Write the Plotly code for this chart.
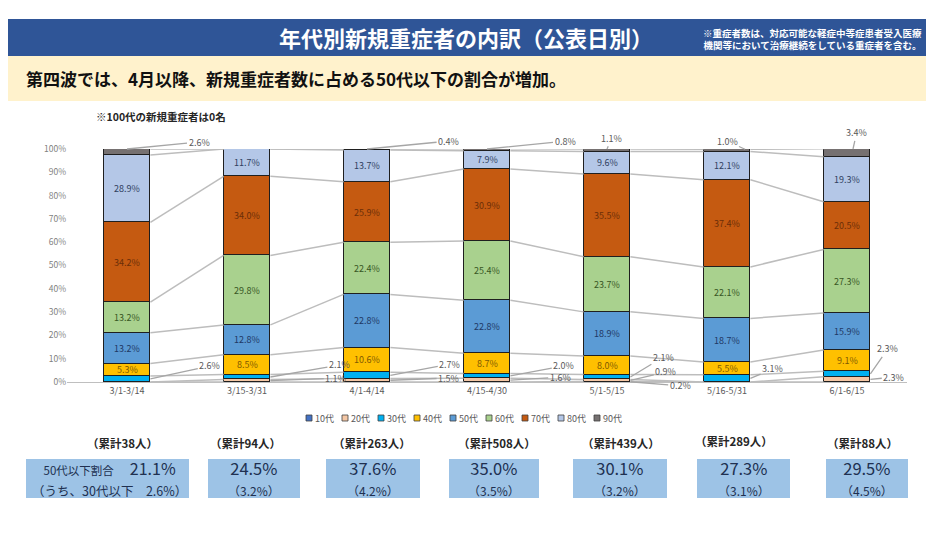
import plotly.graph_objects as go

# ---------------- data ----------------
categories = ["3/1-3/14", "3/15-3/31", "4/1-4/14", "4/15-4/30", "5/1-5/15", "5/16-5/31", "6/1-6/15"]
age_groups = ["10代", "20代", "30代", "40代", "50代", "60代", "70代", "80代", "90代"]

v10 = [0, 0, 0, 0, 0.2, 0, 0]
v20 = [0, 1.1, 1.5, 1.6, 0.9, 0, 2.3]
v30 = [2.6, 2.1, 2.7, 2.0, 2.1, 3.1, 2.3]
v40 = [5.3, 8.5, 10.6, 8.7, 8.0, 5.5, 9.1]
v50 = [13.2, 12.8, 22.8, 22.8, 18.9, 18.7, 15.9]
v60 = [13.2, 29.8, 22.4, 25.4, 23.7, 22.1, 27.3]
v70 = [34.2, 34.0, 25.9, 30.9, 35.5, 37.4, 20.5]
v80 = [28.9, 11.7, 13.7, 7.9, 9.6, 12.1, 19.3]
v90 = [2.6, 0, 0.4, 0.8, 1.1, 1.0, 3.4]

cumulative_cases = [38, 94, 263, 508, 439, 289, 88]
share_50s_or_less = [21.1, 24.5, 37.6, 35.0, 30.1, 27.3, 29.5]
share_30s_or_less = [2.6, 3.2, 4.2, 3.5, 3.2, 3.1, 4.5]

y_tick_values = [0, 10, 20, 30, 40, 50, 60, 70, 80, 90, 100]
y_tick_labels = ["0%", "10%", "20%", "30%", "40%", "50%", "60%", "70%", "80%", "90%", "100%"]

series_values = [v10, v20, v30, v40, v50, v60, v70, v80, v90]

# ---------------- style ----------------
FONT = "Noto Sans CJK JP"
OFF = 8                      # page body margin
W, H = 934 - OFF, 540 - OFF
L, R, T, B = 67 - OFF, 27, 149 - OFF, 158
PW, PH = W - L - R, H - T - B


def px(x):
    return (x - OFF - L) / PW


def py(y):
    return (H - B - (y - OFF)) / PH


bar_colors = ["#4472C4", "#F4C7A5", "#00B0F0", "#FFC000", "#5B9BD5",
              "#A9D18E", "#C55A11", "#B4C7E7", "#767171"]
label_colors = ["#1F3864", "#843C0C", "#004F6E", "#7F5A00", "#1F3864",
                "#375623", "#6B2E08", "#2F3E5E", "#FFFFFF"]
BAR_W = 0.39
HW = BAR_W / 2
INSIDE_MIN = 4.0

# outside label placement: (bar index, age group) -> (text x, text y, anchor x offset, anchor at top?)
outside_labels = {
    (0, "90代"): (0.60, 103.0, 0.0, True),
    (0, "30代"): (0.69, 6.9, HW, False),
    (1, "30代"): (1.77, 7.3, HW, False),
    (1, "20代"): (1.74, 1.7, HW, False),
    (2, "90代"): (2.68, 103.4, 0.0, True),
    (2, "30代"): (2.69, 7.7, HW, False),
    (2, "20代"): (2.68, 1.7, HW, False),
    (3, "90代"): (3.65, 103.4, 0.0, True),
    (3, "30代"): (3.64, 6.9, HW, False),
    (3, "20代"): (3.61, 2.1, HW, False),
    (4, "90代"): (4.04, 104.6, 0.0, True),
    (4, "30代"): (4.47, 10.7, HW, False),
    (4, "20代"): (4.49, 4.3, HW, False),
    (4, "10代"): (4.61, -1.7, HW, False),
    (5, "90代"): (5.00, 103.4, 0.15, True),
    (5, "30代"): (5.38, 5.6, HW, False),
    (6, "90代"): (6.08, 106.9, 0.05, True),
    (6, "30代"): (6.34, 14.2, HW, False),
    (6, "20代"): (6.39, 2.1, HW, False),
}

fig = go.Figure()

xs = list(range(len(categories)))

# cumulative bottoms / tops
bottoms, tops = [], []
run = [0.0] * len(categories)
for vals in series_values:
    bottoms.append(run[:])
    run = [r + v for r, v in zip(run, vals)]
    tops.append(run[:])

# series lines (connect tops of each age group between neighbouring bars)
lx, ly = [], []
for s in range(len(series_values)):
    for i in range(len(categories) - 1):
        lx += [i + HW, i + 1 - HW, None]
        ly += [tops[s][i], tops[s][i + 1], None]
fig.add_trace(go.Scatter(x=lx, y=ly, mode="lines", line=dict(color="#BDBDBD", width=1.5),
                         hoverinfo="skip", showlegend=False))

for s, (name, vals) in enumerate(zip(age_groups, series_values)):
    fig.add_trace(go.Bar(
        x=xs, y=vals, name=name, width=BAR_W,
        marker=dict(color=bar_colors[s], line=dict(color="#1F1F1F", width=1)),
        showlegend=False,
    ))

annotations = []
shapes = []


def note(x, y, text, size, color, xanchor="center", align="center"):
    annotations.append(dict(xref="paper", yref="paper", x=px(x), y=py(y), showarrow=False,
                            xanchor=xanchor, yanchor="middle", align=align, text=text,
                            font=dict(family=FONT, size=size, color=color)))


# data labels
for s, (name, vals) in enumerate(zip(age_groups, series_values)):
    for i, v in enumerate(vals):
        if v <= 0:
            continue
        mid = bottoms[s][i] + v / 2
        if v >= INSIDE_MIN:
            annotations.append(dict(x=i, y=mid, xref="x", yref="y", text=f"{v:.1f}%",
                                    showarrow=False, xanchor="center", yanchor="middle",
                                    font=dict(family=FONT, size=9, color=label_colors[s])))
        elif (i, name) in outside_labels:
            tx, ty, ax_off, at_top = outside_labels[(i, name)]
            ay_pt = tops[s][i] if at_top else mid
            annotations.append(dict(x=i + ax_off, y=min(ay_pt, 100), xref="x", yref="y",
                                    ax=tx, ay=ty, axref="x", ayref="y",
                                    text=f"{v:.1f}%", showarrow=True, arrowhead=0,
                                    arrowwidth=1.3, arrowcolor="#A6A6A6", standoff=0,
                                    font=dict(family=FONT, size=9, color="#595959")))

# header
shapes.append(dict(type="rect", xref="paper", yref="paper", x0=px(5), x1=px(926),
                   y0=py(56), y1=py(19), fillcolor="#2F5597", line=dict(width=0), layer="below"))
shapes.append(dict(type="rect", xref="paper", yref="paper", x0=px(5), x1=px(926),
                   y0=py(101), y1=py(56), fillcolor="#FFF2CC", line=dict(width=0), layer="below"))
note(466, 37, "<b>年代別新規重症者の内訳（公表日別）</b>", 22, "white")
note(924, 39, "<b>※重症者数は、対応可能な軽症中等症患者受入医療<br>機関等において治療継続をしている重症者を含む。</b>",
     9.5, "white", xanchor="right", align="right")
note(24, 78, "<b>第四波では、4月以降、新規重症者数に占める50代以下の割合が増加。</b>", 17, "#111111",
     xanchor="left")
note(94, 117, "<b>※100代の新規重症者は0名</b>", 10.5, "#262626", xanchor="left")

# manual legend
leg_x0, leg_step, leg_y = 306, 36, 418
for s, name in enumerate(age_groups):
    x0 = leg_x0 + s * leg_step
    shapes.append(dict(type="rect", xref="paper", yref="paper", x0=px(x0), x1=px(x0 + 6),
                       y0=py(leg_y + 3), y1=py(leg_y - 3), fillcolor=bar_colors[s],
                       line=dict(color="#404040", width=0.8)))
    note(x0 + 7, leg_y, name, 9, "#595959", xanchor="left")

# summary boxes
box_x = [(26, 189), (208, 300), (326, 420), (449, 539), (573, 667), (697, 790), (826, 908)]
count_label_x = [122, 245, 372, 497, 621, 734, 862]
count_label_y = [443, 443, 443, 443, 443, 441, 443]
for i, (x0, x1) in enumerate(box_x):
    shapes.append(dict(type="rect", xref="paper", yref="paper", x0=px(x0), x1=px(x1),
                       y0=py(498), y1=py(459), fillcolor="#9DC3E6", line=dict(width=0)))
    note(count_label_x[i], count_label_y[i], f"<b>（累計{cumulative_cases[i]}人）</b>", 11.5, "#262626")
    cx = (x0 + x1) / 2
    if i == 0:
        txt = (f"<span style='font-size:11.5px'>50代以下割合</span>　{share_50s_or_less[i]:.1f}%<br>"
               f"<span style='font-size:12.5px'>（うち、30代以下　{share_30s_or_less[i]:.1f}%）</span>")
        note(cx + 2, 478, txt, 16, "#203050")
    else:
        txt = (f"{share_50s_or_less[i]:.1f}%<br>"
               f"<span style='font-size:12px'>（{share_30s_or_less[i]:.1f}%）</span>")
        note(cx, 477, txt, 16.5, "#203050")

fig.update_layout(
    width=W, height=H,
    margin=dict(l=L, r=R, t=T, b=B, autoexpand=False),
    barmode="stack",
    bargap=0,
    paper_bgcolor="white", plot_bgcolor="white",
    showlegend=False,
    font=dict(family=FONT, size=9, color="#595959"),
    xaxis=dict(range=[-0.5, len(categories) - 0.5], tickmode="array", tickvals=xs,
               ticktext=categories, showgrid=False, zeroline=False, showline=True,
               linecolor="#BFBFBF", linewidth=1, ticks="", fixedrange=True,
               tickfont=dict(family=FONT, size=9, color="#595959")),
    yaxis=dict(range=[0, 100], tickmode="array", tickvals=y_tick_values, ticktext=y_tick_labels,
               showgrid=False, zeroline=False, showline=False, ticks="",
               tickfont=dict(family=FONT, size=8.5, color="#7F7F7F")),
    annotations=annotations,
    shapes=shapes,
)

fig.write_html("out.html")
